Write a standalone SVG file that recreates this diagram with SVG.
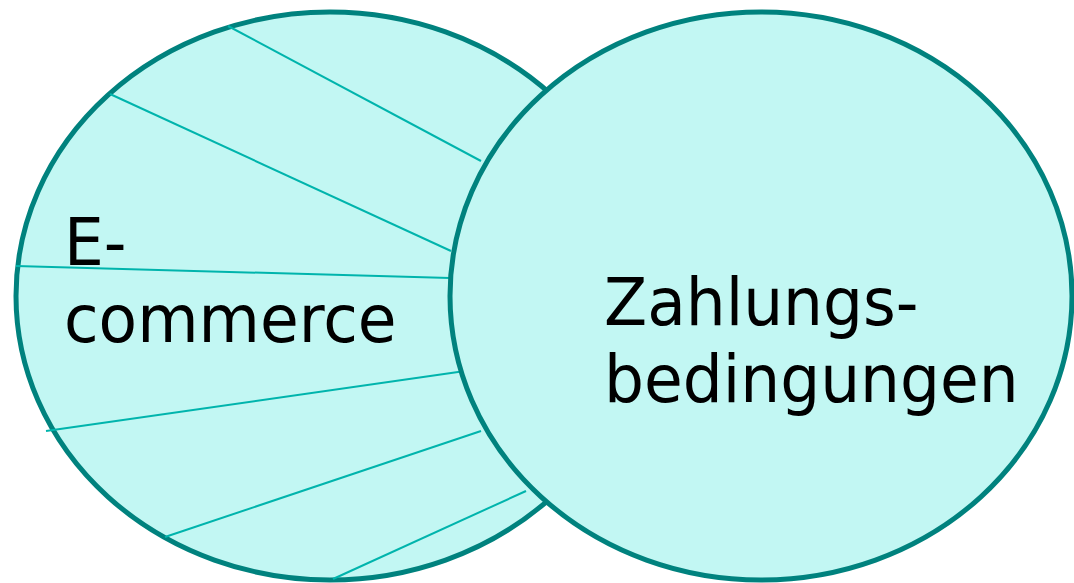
<svg xmlns="http://www.w3.org/2000/svg" width="1074" height="583" viewBox="0 0 1074 583">
<style>
.shape{fill:#C2F7F3;stroke:#00827E;stroke-width:5}
.hatch{stroke:#00B4AC;stroke-width:2;fill:none}
.lbl{font-family:"DejaVu Sans","Noto Sans",sans-serif;font-size:63px;fill:#000}
</style>
<rect width="1074" height="583" fill="#fff"/>
<g id="ecommerce">
<ellipse class="shape" cx="330" cy="296" rx="314" ry="284"/>
<text class="lbl" x="64" y="265" transform="translate(0,265) scale(1,1.04) translate(0,-265)">E-</text>
<text class="lbl" x="64" y="342" transform="translate(0,342) scale(1,1.04) translate(0,-342)">commerce</text>
</g>
<g id="connectors">
<line class="hatch" x1="228" y1="26" x2="481" y2="161"/>
<line class="hatch" x1="110" y1="94" x2="451" y2="251"/>
<line class="hatch" x1="16" y1="266" x2="450" y2="278"/>
<line class="hatch" x1="46" y1="431" x2="465" y2="371"/>
<line class="hatch" x1="165" y1="537" x2="481" y2="431"/>
<line class="hatch" x1="333" y1="579" x2="526" y2="491"/>
</g>
<g id="zahlungsbedingungen">
<ellipse class="shape" cx="761" cy="296" rx="311" ry="284"/>
<text class="lbl" x="604" y="325" transform="translate(0,325) scale(1,1.04) translate(0,-325)">Zahlungs-</text>
<text class="lbl" x="604" y="402" transform="translate(0,402) scale(1,1.04) translate(0,-402)">bedingungen</text>
</g>
</svg>
